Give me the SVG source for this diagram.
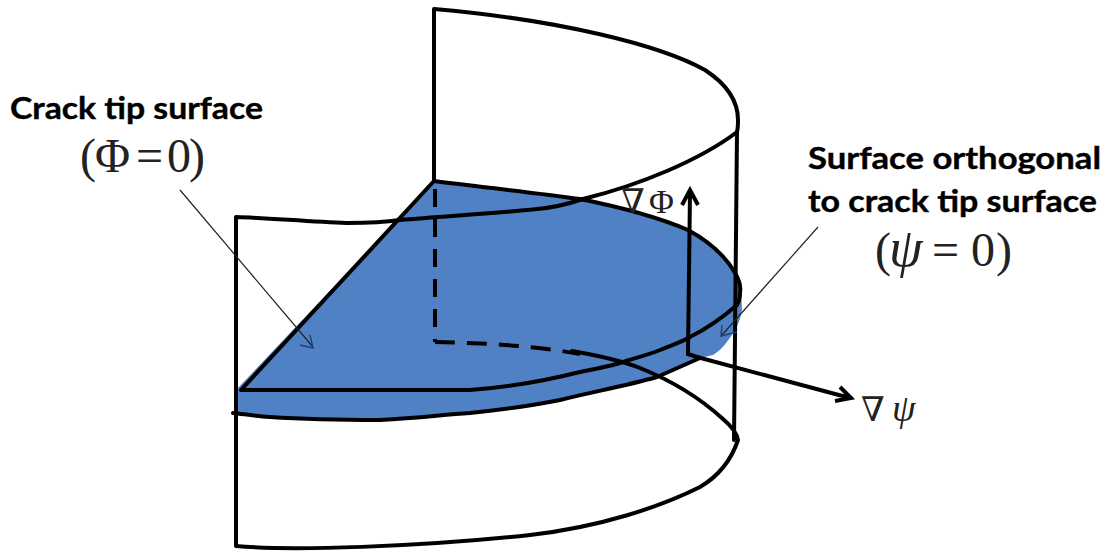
<svg xmlns="http://www.w3.org/2000/svg" width="1109" height="552" viewBox="0 0 1109 552">
<style>
.o{fill:none;stroke:#000;stroke-width:4;stroke-linejoin:round;stroke-linecap:round}
.k{fill:none;stroke:#000;stroke-width:4;stroke-linejoin:miter}
.m{font-family:"Liberation Serif","DejaVu Serif",serif;fill:#222}
.b{font-family:Lato,"Open Sans","Liberation Sans",sans-serif;font-weight:700;font-size:31px;fill:#000;stroke:#000;stroke-width:.4}
.t{fill:none;stroke:#222;stroke-width:1.2}
.h{fill:none;stroke:#1f3f7a;stroke-width:1.4}
</style>
<rect width="1109" height="552" fill="#fff"/>
<g id="blue-surface">
<path d="M434 181C480 187 530 192 580 199C620 207 660 218 688 230C710 242 726 257 735 273C740 285 742 298 742 310C740 322 736 328 733 333C727 343 720 351 713 355L700 358L657 377C625 386 592 392 560 400C530 406 500 410 470 413C440 415 420 418 380 420C340 420 300 419 270 417C255 416 243 414 236 413L236 390Z" fill="#4f81c4"/>
</g>
<g id="connectors">
<path class="o" d="M434 181V9C560 20 660 45 705 70C728 85 738 103 738 120C738 125 738 128 737 132C700 160 640 185 583 199C565 205 550 208 537 209C490 214 445 216 400 220C380 223 365 223 347 223C310 222 270 218 236 217V546C290 551 420 547 530 535C600 527 660 507 700 487C722 474 733 455 738 440C737 433 730 425 723 419C700 398 670 380 640 368C620 360 595 355 572 351"/>
<path class="o" d="M737 132L734 440"/>
<path class="o" d="M434 181C480 187 530 192 580 199C620 207 660 218 688 230C710 242 726 257 735 273C740 281 741 287 740 293C740 298 739 302 737 305"/>
<path class="o" d="M434 181L241 390H470C500 388 540 382 580 372C600 368 610 366 620 363C635 358 648 355 660 350C672 345 682 342 690 337C708 328 722 318 737 305"/>
<path class="o" d="M233 413C243 414 255 416 270 417C300 419 340 420 380 420C420 418 440 415 470 413C500 410 530 406 560 400C592 392 625 386 657 377L700 358"/>
<path class="k" d="M435 181V342" stroke-dasharray="18 12" stroke-dashoffset="-8"/>
<path class="k" d="M435 342C480 343 530 345 580 354" stroke-dasharray="20 12"/>
<path class="k" d="M697 357L850 398M840 387L851 398L835 401"/>
<path class="k" d="M700 358L688 354L690 192M682 205L690 190L698 205"/>
<path class="t" d="M180 190L313 347"/>
<path class="h" d="M300 345L313 348L310 335"/>
<path class="t" d="M818 227L722 335"/>
<path class="h" d="M722 325L721 336L737 332"/>
</g>
<g id="labels">
<text class="b" x="10" y="119" textLength="253" lengthAdjust="spacingAndGlyphs">Crack tip surface</text>
<text class="m" font-size="48" y="172" x="80 95 136 167 189">(Φ=0)</text>
<text class="b" x="808" y="169" textLength="293" lengthAdjust="spacingAndGlyphs">Surface orthogonal</text>
<text class="b" x="808" y="212" textLength="289" lengthAdjust="spacingAndGlyphs">to crack tip surface</text>
<text class="m" font-size="48" y="266" x="875 889 932 971 996">(<tspan font-style="italic" font-size="54">ψ</tspan>=0)</text>
<text class="m" font-size="34" y="213" x="621 649">∇Φ</text>
<text class="m" font-size="34" y="421" x="861">∇</text>
<text class="m" font-size="38" y="421" x="892" font-style="italic">ψ</text>
</g>
</svg>
